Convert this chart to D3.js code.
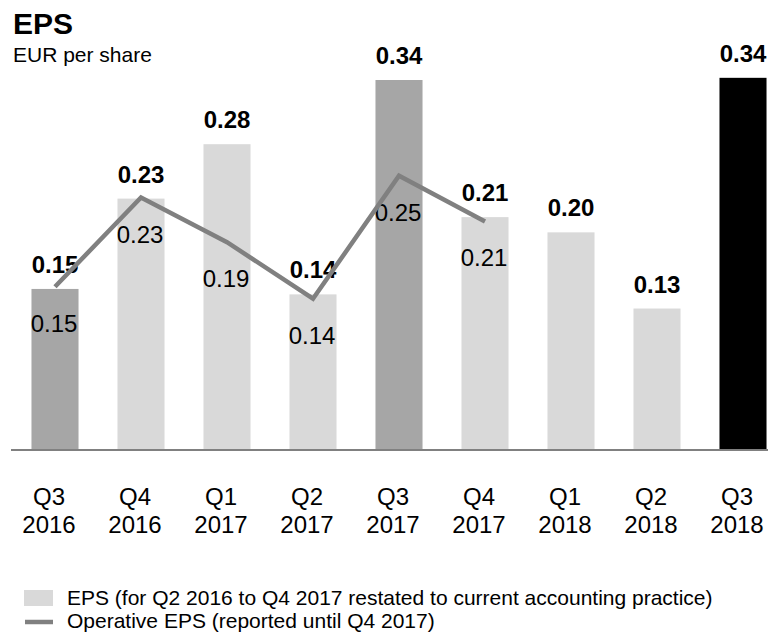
<!DOCTYPE html>
<html>
<head>
<meta charset="utf-8">
<script src="https://cdn.jsdelivr.net/npm/d3@7"></script>
<style>
  html, body { margin: 0; padding: 0; background: #fff; }
  svg { display: block; font-family: "Liberation Sans", Arial, sans-serif; }
</style>
</head>
<body>
<svg id="chart" width="768" height="634"></svg>
<script>
// ---- data ----
const quarters = ["Q3", "Q4", "Q1", "Q2", "Q3", "Q4", "Q1", "Q2", "Q3"];
const years = ["2016", "2016", "2017", "2017", "2017", "2017", "2018", "2018", "2018"];
const epsValues = [0.148, 0.231, 0.281, 0.143, 0.340, 0.214, 0.200, 0.130, 0.342];
const epsLabels = ["0.15", "0.23", "0.28", "0.14", "0.34", "0.21", "0.20", "0.13", "0.34"];
const barKinds = ["reported", "restated", "restated", "restated", "reported", "restated", "restated", "restated", "current"];
const operativeValues = [0.150, 0.232, 0.191, 0.139, 0.252, 0.210];
const operativeLabels = ["0.15", "0.23", "0.19", "0.14", "0.25", "0.21"];
const legendLabels = [
  "EPS (for Q2 2016 to Q4 2017 restated to current accounting practice)",
  "Operative EPS (reported until Q4 2017)"
];

const categories = quarters.map((q, i) => q + " " + years[i]);

// ---- layout ----
const svg = d3.select("#chart");
const baseY = 450;
const x = d3.scaleBand().domain(categories).range([12, 786]).paddingInner(0.453).paddingOuter(0.2265);
const y = d3.scaleLinear().domain([0, 0.34]).range([baseY, 80]);
const color = d3.scaleOrdinal().domain(["reported", "restated", "current"]).range(["#a6a6a6", "#d9d9d9", "#000000"]);
const cx = d => x(d) + x.bandwidth() / 2;

// title
svg.append("text").attr("x", 13).attr("y", 34).attr("font-size", 30).attr("font-weight", "bold").text("EPS");
svg.append("text").attr("x", 13).attr("y", 62).attr("font-size", 21).text("EUR per share");

// bars
svg.append("g").selectAll("rect").data(epsValues).join("rect")
  .attr("x", (d, i) => x(categories[i]))
  .attr("width", x.bandwidth())
  .attr("y", d => y(d))
  .attr("height", d => baseY - y(d))
  .attr("fill", (d, i) => color(barKinds[i]));

// axis baseline
svg.append("line").attr("x1", 11).attr("x2", 768).attr("y1", baseY).attr("y2", baseY)
  .attr("stroke", "#808080").attr("stroke-width", 2);

// bar value labels (bold)
svg.append("g").selectAll("text").data(epsValues).join("text")
  .attr("x", (d, i) => cx(categories[i]))
  .attr("y", d => y(d) - 16)
  .attr("text-anchor", "middle").attr("font-size", 24).attr("font-weight", "bold")
  .text((d, i) => epsLabels[i]);

// operative labels
svg.append("g").selectAll("text").data(operativeValues).join("text")
  .attr("x", (d, i) => cx(categories[i]) - 1)
  .attr("y", d => y(d) + 45)
  .attr("text-anchor", "middle").attr("font-size", 24)
  .text((d, i) => operativeLabels[i]);

// operative line
const line = d3.line().x((d, i) => cx(categories[i])).y(d => y(d));
svg.append("path").datum(operativeValues).attr("d", line)
  .attr("fill", "none").attr("stroke", "#808080").attr("stroke-width", 4.5)
  .attr("stroke-linejoin", "miter");

// x labels
const xl = svg.append("g").selectAll("text").data(categories).join("text")
  .attr("text-anchor", "middle").attr("font-size", 24)
  .attr("transform", d => `translate(${cx(d) - 6},0)`);
xl.append("tspan").attr("x", 0).attr("y", 505).text((d, i) => quarters[i]);
xl.append("tspan").attr("x", 0).attr("y", 533).text((d, i) => years[i]);

// legend
const lg = svg.append("g");
lg.append("rect").attr("x", 24).attr("y", 590).attr("width", 29).attr("height", 16).attr("fill", "#d9d9d9");
lg.append("line").attr("x1", 25).attr("x2", 53).attr("y1", 622).attr("y2", 622)
  .attr("stroke", "#808080").attr("stroke-width", 4.5);
lg.append("text").attr("x", 67).attr("y", 605).attr("font-size", 21).text(legendLabels[0]);
lg.append("text").attr("x", 67).attr("y", 628).attr("font-size", 21).text(legendLabels[1]);
</script>
</body>
</html>
